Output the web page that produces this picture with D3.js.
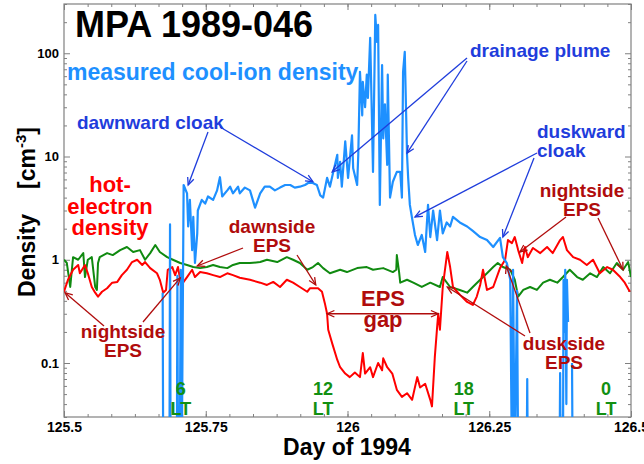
<!DOCTYPE html>
<html><head><meta charset="utf-8">
<script src="https://cdn.jsdelivr.net/npm/d3@7"></script>
<style>
body{margin:0;background:#fff}
svg text{font-family:"Liberation Sans",Arial,Helvetica,sans-serif;font-weight:bold}
</style>
</head><body>
<svg id="chart" width="644" height="464"></svg>
<script>
// ---------------- data ----------------
const xTickValues = [125.5, 125.75, 126, 126.25, 126.5];
const xTickLabels = ["125.5", "125.75", "126", "126.25", "126.5"];
const yTickValues = [0.1, 1, 10, 100];
const yTickLabels = ["0.1", "1", "10", "100"];
const ltLabels = ["6", "12", "18", "0"];
const ltDays = [125.706, 125.957, 126.205, 126.456];

// measured cool-ion density [day, cm^-3]; null = data gap; values below 0.03 fall off the axis
const coolIonDensity = [
 [125.674,0.48],[125.675,0.01], null,
 [125.686,0.01],[125.687,2.2],[125.688,0.01], null,
 [125.699,0.01],[125.700,0.7],[125.701,0.01],[125.704,0.01],[125.706,0.8],[125.708,0.02],[125.711,5.3],
 [125.717,4.4],[125.719,2.1],[125.722,3.8],[125.726,1.24],[125.728,2.6],[125.731,0.93],[125.735,1.8],[125.736,3.0],
 [125.743,3.8],[125.749,3.5],[125.754,4.1],[125.763,3.8],[125.770,4.7],[125.775,6.3],[125.779,4.1],[125.788,4.7],
 [125.793,5.1],[125.798,4.4],[125.807,5.1],[125.810,4.4],[125.819,5.0],[125.828,4.7],[125.837,3.2],[125.846,4.4],
 [125.854,5.1],[125.863,5.1],[125.872,4.7],[125.881,5.0],[125.890,5.3],[125.899,5.3],[125.907,5.0],[125.916,5.1],
 [125.925,5.3],[125.934,5.7],[125.946,5.3],[125.952,4.2],[125.957,4.0],[125.964,6.2],[125.969,5.1],[125.975,7.1],
 [125.982,10.4],[125.983,6.2],[125.987,8.9],[125.990,5.1],[125.996,14],[126.001,6.2],[126.008,16],[126.010,7.7],
 [126.017,5.3],[126.019,10.4],[126.022,66],[126.026,25],[126.027,53],[126.031,30],[126.034,62],[126.036,37],
 [126.040,141],[126.043,24],[126.045,7.1],[126.049,235],[126.052,129],[126.054,188],[126.057,3.4],[126.061,77],
 [126.063,15],[126.066,32],[126.070,8.3],[126.071,62],[126.075,4.0],[126.080,5.7],[126.087,7.1],[126.093,7.1],
 [126.096,4.0],[126.098,66],[126.101,103],[126.105,10.4],[126.107,6.2],[126.110,3.4],[126.114,2.5],[126.119,1.74],
 [126.124,1.39],[126.131,1.74],[126.137,1.19],[126.142,3.4],[126.146,1.66],[126.151,3.0],[126.158,1.55],[126.163,3.0],
 [126.168,1.8],[126.175,2.3],[126.181,2.1],[126.186,2.6],[126.198,2.3],[126.211,2.1],[126.221,1.9],[126.234,1.66],
 [126.246,1.55],[126.257,1.33],[126.269,1.63],[126.274,1.06],[126.281,0.93],[126.287,0.64],[126.290,0.01],[126.292,0.8],
 [126.295,0.01],[126.299,0.5],[126.301,0.01], null,
 [126.316,0.01],[126.317,0.07],[126.318,0.01], null,
 [126.374,0.01],[126.375,0.08],[126.376,0.01], null,
 [126.380,0.01],[126.381,0.64],[126.383,0.2],[126.384,0.8],[126.386,0.04],[126.387,0.64],[126.389,0.25], null,
 [126.396,0.1],[126.397,0.01]
];

// hot-electron density [day, cm^-3]
const hotElectronDensity = [
 [125.500,0.49],[125.507,0.64],[125.516,0.80],[125.525,0.89],[125.528,0.74],[125.537,0.89],[125.542,0.74],[125.549,0.545],
 [125.555,0.48],[125.560,0.44],[125.567,0.49],[125.576,0.53],[125.585,0.60],[125.594,0.61],[125.602,0.71],[125.611,0.80],
 [125.620,0.95],[125.629,1.0],[125.638,0.89],[125.643,0.95],[125.652,0.83],[125.664,0.74],[125.669,0.64],[125.675,0.48],
 [125.680,0.51],[125.683,0.80],[125.691,0.85],[125.696,0.71],[125.701,0.85],[125.705,0.64],[125.710,0.60],[125.717,0.68],
 [125.726,0.80],[125.731,0.68],[125.740,0.76],[125.752,0.74],[125.763,0.71],[125.775,0.68],[125.788,0.74],[125.798,0.71],
 [125.810,0.67],[125.828,0.64],[125.846,0.60],[125.858,0.57],[125.869,0.61],[125.881,0.545],[125.893,0.64],[125.904,0.60],
 [125.916,0.545],[125.929,0.49],[125.934,0.53],[125.948,0.53],[125.955,0.49],[125.960,0.38],[125.964,0.30],[125.966,0.21],
 [125.973,0.155],[125.982,0.107],[125.987,0.091],[125.996,0.079],[126.004,0.073],[126.013,0.081],[126.022,0.073],[126.027,0.125],
 [126.031,0.079],[126.040,0.091],[126.045,0.073],[126.054,0.10],[126.061,0.085],[126.063,0.111],[126.070,0.091],[126.079,0.079],
 [126.087,0.055],[126.096,0.047],[126.105,0.051],[126.114,0.044],[126.123,0.073],[126.128,0.058],[126.137,0.063],[126.146,0.044],
 [126.149,0.038],[126.154,0.114],[126.158,0.22],[126.160,0.30],[126.163,0.21],[126.168,0.545],[126.176,1.19],[126.181,0.85],
 [126.186,0.545],[126.198,0.46],[126.211,0.39],[126.221,0.365],[126.228,0.44],[126.234,0.57],[126.239,0.80],[126.246,0.51],
 [126.257,0.545],[126.269,0.83],[126.278,1.0],[126.283,1.55],[126.290,1.45],[126.295,1.66],[126.301,1.24],[126.308,0.93],
 [126.313,1.33],[126.318,1.06],[126.327,1.30],[126.340,1.16],[126.352,1.33],[126.362,1.16],[126.375,1.55],[126.380,1.66],
 [126.387,1.24],[126.398,1.06],[126.410,1.0],[126.422,0.89],[126.433,1.0],[126.445,0.74],[126.458,0.85],[126.468,0.80],
 [126.481,0.68],[126.489,0.60],[126.498,0.49]
];

// third (green) density trace [day, cm^-3]
const greenDensity = [
 [125.500,1.0],[125.505,0.93],[125.511,0.545],[125.516,1.06],[125.525,1.0],[125.534,1.16],[125.537,0.68],[125.542,1.0],
 [125.549,1.06],[125.555,0.545],[125.558,0.51],[125.560,0.93],[125.563,1.06],[125.576,1.16],[125.586,1.11],[125.599,1.24],
 [125.611,1.33],[125.622,1.19],[125.634,1.24],[125.643,1.0],[125.652,1.16],[125.661,1.39],[125.669,1.19],[125.682,1.06],
 [125.692,1.0],[125.705,0.93],[125.717,0.89],[125.728,0.85],[125.740,0.83],[125.752,0.85],[125.763,0.89],[125.775,0.85],
 [125.788,0.83],[125.798,0.89],[125.810,0.93],[125.828,0.93],[125.846,0.95],[125.858,1.0],[125.876,0.95],[125.893,1.06],
 [125.904,1.0],[125.916,0.93],[125.929,0.80],[125.939,0.85],[125.948,0.93],[125.957,0.83],[125.969,0.74],[125.987,0.80],
 [125.999,0.76],[126.017,0.83],[126.034,0.85],[126.045,0.80],[126.063,0.83],[126.080,0.76],[126.086,0.80],[126.087,1.11],
 [126.091,0.76],[126.093,0.60],[126.105,0.64],[126.116,0.60],[126.131,0.545],[126.146,0.60],[126.163,0.545],[126.168,0.68],
 [126.181,0.545],[126.198,0.51],[126.211,0.48],[126.221,0.545],[126.234,0.64],[126.246,0.74],[126.257,0.85],[126.265,0.93],
 [126.274,0.85],[126.287,0.80],[126.295,0.64],[126.301,0.44],[126.310,0.51],[126.322,0.545],[126.334,0.51],[126.345,0.60],
 [126.357,0.64],[126.370,0.60],[126.380,0.68],[126.392,0.80],[126.405,0.68],[126.415,0.64],[126.428,0.74],[126.440,0.68],
 [126.451,0.85],[126.463,0.74],[126.475,0.93],[126.486,0.80],[126.495,0.95],[126.500,0.68]
];

// ---------------- layout ----------------
const svg = d3.select("#chart");
const L = 64, R = 631, T = 4, B = 417;
const x = d3.scaleLinear().domain([125.5, 126.5]).range([L, R]);
const y = d3.scaleLog().domain([0.03, 300]).range([B, T]);

const C = {
  ion: "#1e90ff", red: "#ff0000", green: "#108a10",
  blueNote: "#1f3ddc", redNote: "#b00c0c", lt: "#129012", frame: "#808080"
};

svg.append("rect").attr("width", 644).attr("height", 464).attr("fill", "#fff");

svg.append("defs").append("clipPath").attr("id", "plotclip")
  .append("rect").attr("x", L).attr("y", T).attr("width", R - L).attr("height", B - T);

// ---------------- axes ----------------
const xMinor = d3.range(0, 25).map(i => 125.5 + i / 24);
const yMinor = [];
for (let e = -2; e <= 2; e++) for (let k = 2; k <= 9; k++) {
  const v = k * Math.pow(10, e);
  if (v >= 0.0299 && v <= 300.1) yMinor.push(v);
}
function styleAxis(g) {
  g.select(".domain").remove();
  g.selectAll(".tick line").attr("stroke", C.frame);
  g.selectAll("text").attr("fill", "#000");
}
svg.append("g").attr("transform", `translate(0,${B})`)
  .call(d3.axisBottom(x).tickValues(xTickValues).tickFormat((d, i) => xTickLabels[i]).tickSize(-6).tickPadding(5))
  .call(styleAxis).selectAll("text").style("font-size", "14px");
svg.append("g").attr("transform", `translate(0,${B})`)
  .call(d3.axisBottom(x).tickValues(xMinor).tickSize(-3).tickFormat("")).call(styleAxis);
svg.append("g").attr("transform", `translate(0,${T})`)
  .call(d3.axisTop(x).tickValues(xTickValues).tickSize(-6).tickFormat("")).call(styleAxis);
svg.append("g").attr("transform", `translate(0,${T})`)
  .call(d3.axisTop(x).tickValues(xMinor).tickSize(-3).tickFormat("")).call(styleAxis);
svg.append("g").attr("transform", `translate(${L},0)`)
  .call(d3.axisLeft(y).tickValues(yTickValues).tickFormat((d, i) => yTickLabels[i]).tickSize(-6).tickPadding(5))
  .call(styleAxis).selectAll("text").style("font-size", "13px");
svg.append("g").attr("transform", `translate(${L},0)`)
  .call(d3.axisLeft(y).tickValues(yMinor).tickSize(-3).tickFormat("")).call(styleAxis);
svg.append("g").attr("transform", `translate(${R},0)`)
  .call(d3.axisRight(y).tickValues(yTickValues).tickSize(-6).tickFormat("")).call(styleAxis);
svg.append("g").attr("transform", `translate(${R},0)`)
  .call(d3.axisRight(y).tickValues(yMinor).tickSize(-3).tickFormat("")).call(styleAxis);

svg.append("rect").attr("x", L).attr("y", T).attr("width", R - L).attr("height", B - T)
  .attr("fill", "none").attr("stroke", C.frame).attr("stroke-width", 1.2);

// ---------------- series ----------------
const line = d3.line().defined(d => d != null).x(d => x(d[0])).y(d => y(d[1]));
const plot = svg.append("g").attr("clip-path", "url(#plotclip)");
plot.append("path").datum(greenDensity).attr("d", line).attr("fill", "none")
  .attr("stroke", C.green).attr("stroke-width", 2).attr("stroke-linejoin", "round");
plot.append("path").datum(hotElectronDensity).attr("d", line).attr("fill", "none")
  .attr("stroke", C.red).attr("stroke-width", 2).attr("stroke-linejoin", "round");
plot.append("path").datum(coolIonDensity).attr("d", line).attr("fill", "none")
  .attr("stroke", C.ion).attr("stroke-width", 2.2).attr("stroke-linejoin", "round");

// ---------------- annotations ----------------
function head(g, tx, ty, fx, fy, color) {
  const a = Math.atan2(ty - fy, tx - fx), len = 8, w = 0.42;
  g.append("polyline")
    .attr("points", [[tx - len * Math.cos(a - w), ty - len * Math.sin(a - w)], [tx, ty],
      [tx - len * Math.cos(a + w), ty - len * Math.sin(a + w)]].map(p => p.join(",")).join(" "))
    .attr("fill", "none").attr("stroke", color).attr("stroke-width", 1.3);
}
function arrow(from, to, color, both) {
  const g = svg.append("g");
  const tx = x(to[0]), ty = y(to[1]);
  g.append("line").attr("x1", from[0]).attr("y1", from[1]).attr("x2", tx).attr("y2", ty)
    .attr("stroke", color).attr("stroke-width", 1.3);
  head(g, tx, ty, from[0], from[1], color);
  if (both) head(g, from[0], from[1], tx, ty, color);
}
// arrow tails in px (next to their labels), tips on the data (day, density)
[[[208,132],[125.719,5.3]], [[220,127],[125.939,5.7]], [[467,58],[125.973,7.1]],
 [[467,61],[126.105,10.8]], [[537,153],[126.119,2.6]], [[534,158],[126.274,1.66]]]
  .forEach(([f, t]) => arrow(f, t, C.blueNote));
[[[104,326],[125.502,0.48]], [[143,322],[125.705,0.667]], [[243,248],[125.735,0.87]],
 [[297,255],[125.944,0.57]], [[525,336],[126.176,0.545]], [[530,333],[126.280,0.87]],
 [[566,217],[126.304,1.19]], [[598,218],[126.486,0.80]]]
  .forEach(([f, t]) => arrow(f, t, C.redNote));
arrow([x(125.964), y(0.30)], [126.160, 0.30], C.redNote, true);

function label(lines, cx, y0, dy, size, color, anchor) {
  const t = svg.append("text").attr("fill", color).attr("font-size", size)
    .attr("text-anchor", anchor || "middle");
  lines.forEach((s, i) => t.append("tspan").attr("x", cx).attr("y", y0 + i * dy).text(s));
}
label(["MPA 1989-046"], 75, 37, 0, 36, "#000", "start");
label(["measured cool-ion density"], 67, 80, 0, 23, C.ion, "start");
label(["dawnward cloak"], 77, 129, 0, 19, C.blueNote, "start");
label(["drainage plume"], 470, 57, 0, 19, C.blueNote, "start");
label(["duskward", "cloak"], 537, 138, 19, 19, C.blueNote, "start");
label(["hot-", "electron", "density"], 110, 192, 21.5, 22, C.red);
label(["dawnside", "EPS"], 272, 233, 19, 19, C.redNote);
label(["EPS", "gap"], 383, 306, 21, 22, C.redNote);
label(["nightside", "EPS"], 123, 338, 19, 19, C.redNote);
label(["nightside", "EPS"], 582, 197, 19, 19, C.redNote);
label(["duskside", "EPS"], 564, 350, 18.5, 19, C.redNote);
ltLabels.forEach((s, i) => label([s, "LT"], x(ltDays[i]), 395, 20, 18, C.lt));

// axis titles
svg.append("text").attr("x", 347).attr("y", 455).attr("text-anchor", "middle")
  .attr("font-size", 23).attr("fill", "#000").text("Day of 1994");
const yl = svg.append("g").attr("transform", "translate(35,0) rotate(-90)");
yl.append("text").attr("x", -297).attr("y", 0).attr("font-size", 23).attr("fill", "#000").text("Density");
const yu = yl.append("text").attr("x", -127).attr("y", 0).attr("text-anchor", "end")
  .attr("font-size", 23).attr("fill", "#000");
yu.append("tspan").text("[cm");
yu.append("tspan").attr("dy", -9).attr("font-size", 15).text("-3");
yu.append("tspan").attr("dy", 9).text("]");
</script>
</body></html>
